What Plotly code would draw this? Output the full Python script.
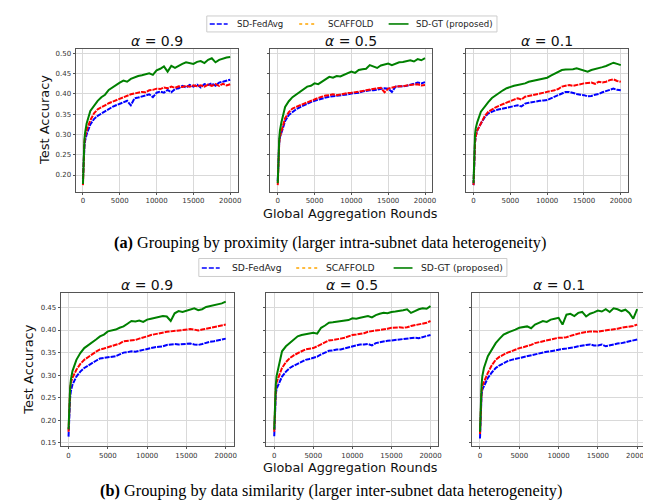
import plotly.graph_objects as go

rounds = [0, 100, 200, 300] + list(range(500, 20001, 500))

alpha_labels = ["0.9", "0.5", "0.1"]
series_names = ["SD-FedAvg", "SCAFFOLD", "SD-GT (proposed)"]

# ---- (a) Grouping by proximity ----
a09_fedavg = [0.190, 0.245, 0.270, 0.285, 0.300, 0.325, 0.338, 0.346, 0.352, 0.356, 0.362, 0.368, 0.372, 0.376,
              0.380, 0.383, 0.372, 0.389, 0.391, 0.393, 0.396, 0.399, 0.392, 0.403, 0.406, 0.403, 0.410, 0.404,
              0.412, 0.414, 0.420, 0.416, 0.422, 0.418, 0.423, 0.416, 0.424, 0.422, 0.426, 0.420, 0.428, 0.430,
              0.432, 0.435]
a09_scaffold = [0.175, 0.250, 0.280, 0.295, 0.310, 0.335, 0.352, 0.362, 0.368, 0.372, 0.377, 0.381, 0.384, 0.389,
                0.391, 0.395, 0.399, 0.401, 0.403, 0.405, 0.404, 0.409, 0.410, 0.413, 0.412, 0.416, 0.414, 0.418,
                0.415, 0.419, 0.417, 0.420, 0.418, 0.421, 0.419, 0.421, 0.418, 0.423, 0.420, 0.424, 0.420, 0.425,
                0.421, 0.424]
a09_sdgt = [0.178, 0.255, 0.288, 0.305, 0.327, 0.358, 0.372, 0.383, 0.392, 0.398, 0.410, 0.416, 0.424, 0.428,
            0.433, 0.430, 0.437, 0.441, 0.444, 0.446, 0.448, 0.451, 0.447, 0.458, 0.462, 0.468, 0.455, 0.469,
            0.464, 0.470, 0.474, 0.478, 0.476, 0.474, 0.479, 0.481, 0.476, 0.484, 0.488, 0.478, 0.484, 0.487,
            0.490, 0.491]

a05_fedavg = [0.185, 0.250, 0.280, 0.293, 0.305, 0.333, 0.348, 0.356, 0.362, 0.367, 0.372, 0.376, 0.380, 0.383,
              0.386, 0.389, 0.391, 0.393, 0.394, 0.395, 0.396, 0.397, 0.399, 0.401, 0.402, 0.403, 0.406, 0.408,
              0.409, 0.409, 0.411, 0.413, 0.414, 0.413, 0.405, 0.418, 0.418, 0.419, 0.420, 0.422, 0.425, 0.428,
              0.426, 0.429]
a05_scaffold = [0.175, 0.250, 0.280, 0.295, 0.310, 0.340, 0.355, 0.364, 0.368, 0.372, 0.376, 0.380, 0.383, 0.386,
                0.390, 0.393, 0.396, 0.397, 0.399, 0.397, 0.399, 0.400, 0.402, 0.403, 0.404, 0.405, 0.407, 0.409,
                0.411, 0.413, 0.414, 0.415, 0.404, 0.413, 0.416, 0.418, 0.419, 0.419, 0.421, 0.422, 0.423, 0.424,
                0.421, 0.422]
a05_sdgt = [0.180, 0.260, 0.290, 0.310, 0.330, 0.368, 0.382, 0.392, 0.399, 0.405, 0.411, 0.418, 0.420, 0.426,
            0.424, 0.430, 0.438, 0.442, 0.440, 0.444, 0.443, 0.447, 0.450, 0.455, 0.452, 0.459, 0.461, 0.462,
            0.471, 0.468, 0.464, 0.470, 0.473, 0.475, 0.471, 0.474, 0.478, 0.479, 0.481, 0.483, 0.480, 0.486,
            0.483, 0.488]

a01_fedavg = [0.175, 0.250, 0.280, 0.295, 0.310, 0.327, 0.342, 0.352, 0.357, 0.360, 0.362, 0.364, 0.366, 0.368,
              0.370, 0.372, 0.369, 0.376, 0.378, 0.380, 0.382, 0.383, 0.384, 0.385, 0.389, 0.393, 0.397, 0.400,
              0.405, 0.405, 0.402, 0.400, 0.398, 0.397, 0.394, 0.395, 0.398, 0.400, 0.404, 0.408, 0.410, 0.413,
              0.410, 0.409]
a01_scaffold = [0.175, 0.250, 0.280, 0.295, 0.310, 0.327, 0.345, 0.356, 0.362, 0.367, 0.371, 0.375, 0.380, 0.383,
                0.386, 0.389, 0.386, 0.393, 0.395, 0.397, 0.399, 0.400, 0.403, 0.405, 0.407, 0.409, 0.412, 0.418,
                0.420, 0.422, 0.420, 0.422, 0.425, 0.426, 0.427, 0.428, 0.425, 0.430, 0.428, 0.430, 0.434, 0.436,
                0.432, 0.430]
a01_sdgt = [0.180, 0.270, 0.300, 0.315, 0.330, 0.356, 0.369, 0.380, 0.390, 0.397, 0.404, 0.409, 0.414, 0.418,
            0.420, 0.422, 0.424, 0.426, 0.430, 0.432, 0.434, 0.436, 0.438, 0.440, 0.445, 0.449, 0.454, 0.459,
            0.460, 0.460, 0.461, 0.463, 0.460, 0.457, 0.455, 0.459, 0.461, 0.463, 0.466, 0.469, 0.474, 0.477,
            0.474, 0.471]

# ---- (b) Grouping by data similarity ----
b09_fedavg = [0.164, 0.220, 0.250, 0.265, 0.279, 0.297, 0.308, 0.316, 0.322, 0.327, 0.332, 0.337, 0.338, 0.340,
              0.341, 0.342, 0.346, 0.350, 0.351, 0.353, 0.352, 0.354, 0.356, 0.359, 0.360, 0.362, 0.363, 0.364,
              0.367, 0.368, 0.369, 0.368, 0.369, 0.369, 0.370, 0.368, 0.367, 0.369, 0.372, 0.374, 0.375, 0.377,
              0.379, 0.381]
b09_scaffold = [0.175, 0.240, 0.270, 0.284, 0.294, 0.312, 0.325, 0.334, 0.341, 0.346, 0.352, 0.357, 0.359, 0.362,
                0.364, 0.368, 0.370, 0.375, 0.376, 0.377, 0.378, 0.381, 0.383, 0.386, 0.389, 0.391, 0.392, 0.394,
                0.396, 0.397, 0.398, 0.399, 0.400, 0.401, 0.402, 0.401, 0.399, 0.401, 0.403, 0.405, 0.406, 0.408,
                0.410, 0.412]
b09_sdgt = [0.180, 0.240, 0.271, 0.290, 0.309, 0.334, 0.349, 0.360, 0.366, 0.371, 0.379, 0.386, 0.390, 0.397,
            0.399, 0.401, 0.405, 0.408, 0.414, 0.420, 0.419, 0.421, 0.418, 0.423, 0.425, 0.427, 0.429, 0.431,
            0.430, 0.420, 0.437, 0.442, 0.440, 0.443, 0.446, 0.448, 0.444, 0.446, 0.451, 0.453, 0.455, 0.457,
            0.459, 0.463]

b05_fedavg = [0.165, 0.225, 0.257, 0.270, 0.279, 0.297, 0.308, 0.316, 0.321, 0.325, 0.330, 0.334, 0.336, 0.338,
              0.341, 0.346, 0.350, 0.354, 0.355, 0.357, 0.357, 0.359, 0.361, 0.364, 0.366, 0.368, 0.368, 0.369,
              0.366, 0.371, 0.373, 0.375, 0.376, 0.377, 0.378, 0.379, 0.380, 0.381, 0.382, 0.383, 0.382, 0.384,
              0.386, 0.389]
b05_scaffold = [0.175, 0.240, 0.271, 0.284, 0.294, 0.316, 0.329, 0.338, 0.344, 0.349, 0.353, 0.357, 0.358, 0.360,
                0.364, 0.368, 0.372, 0.377, 0.378, 0.379, 0.381, 0.383, 0.386, 0.389, 0.390, 0.391, 0.393, 0.396,
                0.398, 0.399, 0.400, 0.401, 0.403, 0.405, 0.406, 0.406, 0.405, 0.406, 0.409, 0.411, 0.412, 0.414,
                0.416, 0.420]
b05_sdgt = [0.180, 0.245, 0.279, 0.298, 0.316, 0.353, 0.364, 0.371, 0.379, 0.386, 0.389, 0.391, 0.393, 0.394,
            0.392, 0.405, 0.410, 0.416, 0.417, 0.418, 0.419, 0.420, 0.422, 0.426, 0.425, 0.427, 0.429, 0.431,
            0.428, 0.433, 0.436, 0.438, 0.437, 0.440, 0.441, 0.442, 0.444, 0.446, 0.438, 0.442, 0.446, 0.448,
            0.447, 0.453]

b01_fedavg = [0.160, 0.225, 0.257, 0.268, 0.275, 0.294, 0.306, 0.316, 0.322, 0.327, 0.331, 0.334, 0.336, 0.338,
              0.340, 0.342, 0.344, 0.346, 0.348, 0.351, 0.352, 0.353, 0.355, 0.357, 0.358, 0.359, 0.360, 0.362,
              0.364, 0.366, 0.367, 0.368, 0.366, 0.366, 0.368, 0.364, 0.366, 0.369, 0.370, 0.371, 0.373, 0.374,
              0.376, 0.379]
b01_scaffold = [0.170, 0.235, 0.264, 0.277, 0.286, 0.305, 0.322, 0.334, 0.341, 0.346, 0.350, 0.353, 0.357, 0.360,
                0.362, 0.364, 0.367, 0.371, 0.373, 0.375, 0.377, 0.379, 0.381, 0.383, 0.383, 0.384, 0.387, 0.390,
                0.392, 0.394, 0.396, 0.397, 0.397, 0.396, 0.398, 0.399, 0.400, 0.401, 0.403, 0.405, 0.406, 0.408,
                0.409, 0.412]
b01_sdgt = [0.175, 0.245, 0.279, 0.298, 0.316, 0.342, 0.358, 0.371, 0.381, 0.390, 0.394, 0.397, 0.401, 0.405,
            0.407, 0.408, 0.404, 0.412, 0.416, 0.420, 0.418, 0.423, 0.425, 0.427, 0.412, 0.434, 0.436, 0.431,
            0.438, 0.440, 0.430, 0.436, 0.439, 0.443, 0.441, 0.446, 0.440, 0.448, 0.446, 0.442, 0.445, 0.438,
            0.425, 0.446]

panels_a = [(a09_fedavg, a09_scaffold, a09_sdgt), (a05_fedavg, a05_scaffold, a05_sdgt),
            (a01_fedavg, a01_scaffold, a01_sdgt)]
panels_b = [(b09_fedavg, b09_scaffold, b09_sdgt), (b05_fedavg, b05_scaffold, b05_sdgt),
            (b01_fedavg, b01_scaffold, b01_sdgt)]

W, H = 651, 502
FONT = "DejaVu Sans"


def px(x):
    return x / W


def py(y):
    return 1 - y / H


# pixel boxes of axes
top_x = [(68, 231), (264, 427), (461, 624)]
top_y = (41, 184)
bot_x = [(53, 227), (260, 433), (467, 641)]
bot_y = (286, 439)

fig = go.Figure()
layout = dict(width=W, height=H, margin=dict(l=0, r=0, t=0, b=0),
              paper_bgcolor="white", plot_bgcolor="white", showlegend=False)

line_styles = [dict(color="#0000ff", width=2.0, dash="5px,1px"),
               dict(color="#ff0000", width=2.0, dash="5px,1px"),
               dict(color="#008000", width=2.0)]

annotations = []
shapes = []


def add_panel(idx, xbox, ybox, data, yrange, ytickvals, show_ylabels, title):
    xa = "xaxis" if idx == 1 else f"xaxis{idx}"
    ya = "yaxis" if idx == 1 else f"yaxis{idx}"
    xr = "x" if idx == 1 else f"x{idx}"
    yr = "y" if idx == 1 else f"y{idx}"
    layout[xa] = dict(domain=[px(xbox[0]), px(xbox[1])], anchor=yr, range=[-1000, 21000],
                      tickvals=[0, 5000, 10000, 15000, 20000],
                      ticktext=["0", "5000", "10000", "15000", "20000"],
                      showgrid=True, gridcolor="#d9d9d9", gridwidth=1, zeroline=False,
                      showline=True, linecolor="#555555", linewidth=1, mirror=True,
                      ticks="outside", ticklen=2, tickcolor="#555555",
                      tickfont=dict(family=FONT, size=7, color="#333333"))
    layout[ya] = dict(domain=[py(ybox[1]), py(ybox[0])], anchor=xr, range=yrange,
                      tickvals=ytickvals, ticktext=[f"{v:.2f}" for v in ytickvals],
                      showticklabels=show_ylabels,
                      showgrid=True, gridcolor="#d9d9d9", gridwidth=1, zeroline=False,
                      showline=True, linecolor="#555555", linewidth=1, mirror=True,
                      ticks="outside", ticklen=2, tickcolor="#555555",
                      tickfont=dict(family=FONT, size=7, color="#333333"))
    for s, (vals, st) in enumerate(zip(data, line_styles)):
        fig.add_trace(go.Scatter(x=rounds, y=vals, mode="lines", line=st, xaxis=xr, yaxis=yr,
                                 name=series_names[s], showlegend=False, hoverinfo="skip"))
    annotations.append(dict(text=f"<i>α</i> = {title}", x=px((xbox[0] + xbox[1]) / 2),
                            y=py(ybox[0] - 8), xref="paper", yref="paper", xanchor="center",
                            yanchor="middle", showarrow=False,
                            font=dict(family=FONT, size=14, color="#111111")))


for i in range(3):
    add_panel(i + 1, top_x[i], top_y, panels_a[i], [0.159, 0.511],
              [0.20, 0.25, 0.30, 0.35, 0.40, 0.45, 0.50], i == 0, alpha_labels[i])
for i in range(3):
    add_panel(i + 4, bot_x[i], bot_y, panels_b[i], [0.143, 0.481],
              [0.15, 0.20, 0.25, 0.30, 0.35, 0.40, 0.45], i == 0, alpha_labels[i])

# hand-built legends (the legend shows SCAFFOLD as orange dotted)
legend_styles = [dict(color="#0000ff", width=1.6, dash="5px,2px"),
                 dict(color="#ffa500", width=1.4, dash="dot"),
                 dict(color="#008000", width=1.6)]
legend_specs = [
    dict(box=(200, 492, 8, 24), samples=[(203, 221), (293, 311), (383, 403)],
         texts=[228, 320, 409], yc=16, size=8.6),
    dict(box=(192, 502, 251, 269), samples=[(195, 213), (290, 312), (388, 407)],
         texts=[223, 318, 414], yc=260.5, size=9.2),
]
for spec in legend_specs:
    bx0, bx1, by0, by1 = spec["box"]
    shapes.append(dict(type="rect", xref="paper", yref="paper", x0=px(bx0), x1=px(bx1),
                       y0=py(by1), y1=py(by0), line=dict(color="#cccccc", width=1),
                       fillcolor="white", layer="above"))
    for (sx0, sx1), tx, name, st in zip(spec["samples"], spec["texts"], series_names, legend_styles):
        shapes.append(dict(type="line", xref="paper", yref="paper", x0=px(sx0), x1=px(sx1),
                           y0=py(spec["yc"]), y1=py(spec["yc"]), line=st, layer="above"))
        annotations.append(dict(text=name, x=px(tx), y=py(spec["yc"]), xref="paper", yref="paper",
                                xanchor="left", yanchor="middle", showarrow=False,
                                font=dict(family=FONT, size=spec["size"], color="#222222")))

# axis labels
for yc, xc in [((top_y[0] + top_y[1]) / 2, 37), ((bot_y[0] + bot_y[1]) / 2, 21)]:
    annotations.append(dict(text="Test Accuracy", x=px(xc), y=py(yc), xref="paper", yref="paper",
                            textangle=-90, showarrow=False, xanchor="center", yanchor="middle",
                            font=dict(family=FONT, size=13, color="#111111")))
for yc in [206, 460]:
    annotations.append(dict(text="Global Aggregation Rounds", x=px(345), y=py(yc), xref="paper",
                            yref="paper", showarrow=False, xanchor="center", yanchor="middle",
                            borderpad=0, font=dict(family=FONT, size=12.8, color="#111111")))

# captions
annotations.append(dict(text="<b>(a)</b> Grouping by proximity (larger intra-subnet data heterogeneity)",
                        x=px(324), y=py(235), xref="paper", yref="paper", showarrow=False,
                        xanchor="center", yanchor="middle", borderpad=0,
                        font=dict(family="Liberation Serif", size=16.3, color="#000000")))
annotations.append(dict(text="<b>(b)</b> Grouping by data similarity (larger inter-subnet data heterogeneity)",
                        x=px(325), y=py(483), xref="paper", yref="paper", showarrow=False,
                        xanchor="center", yanchor="middle", borderpad=0,
                        font=dict(family="Liberation Serif", size=16.3, color="#000000")))

layout["annotations"] = annotations
layout["shapes"] = shapes
fig.update_layout(**layout)
fig.write_html("out.html")
